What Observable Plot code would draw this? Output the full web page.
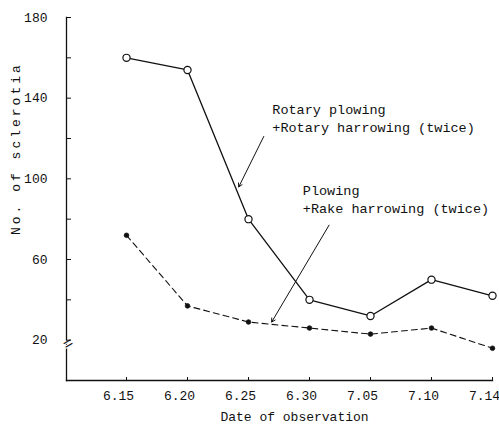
<!DOCTYPE html>
<html>
<head>
<meta charset="utf-8">
<script src="https://cdn.jsdelivr.net/npm/d3@7"></script>
<script src="https://cdn.jsdelivr.net/npm/@observablehq/plot@0.6"></script>
<style>
  html, body { margin: 0; padding: 0; background: #fff; }
  #chart svg { display: block; }
  .ytitle text { letter-spacing: 3px; }
</style>
</head>
<body>
<div id="chart"></div>
<script>
// ---- data ----
const dates = ["6.15", "6.20", "6.25", "6.30", "7.05", "7.10", "7.14"];
const rotarySeries = [160, 154, 80, 40, 32, 50, 42];   // Rotary plowing + Rotary harrowing (twice)
const plowingSeries = [72, 37, 29, 26, 23, 26, 16];    // Plowing + Rake harrowing (twice)
const yTicks = [20, 40, 60, 80, 100, 120, 140, 160, 180];
const yTickLabels = [20, 60, 100, 140, 180];
const yLabel = "No. of sclerotia";
const xLabel = "Date of observation";
const rotaryLabel = ["Rotary plowing", "+Rotary harrowing (twice)"];
const plowingLabel = ["Plowing", "+Rake harrowing (twice)"];
// annotation anchors in data space (x = date index, y = count)
const rotaryText = {x: 2.39, y: 139};
const plowingText = {x: 2.89, y: 98};
const rotaryArrow = [{x1: 2.25, y1: 121, x2: 1.84, y2: 96}];
const plowingArrow = [{x1: 3.32, y1: 77, x2: 2.38, y2: 29}];

const idx = dates.map((d, i) => i);
const rot = idx.map(i => ({x: i, y: rotarySeries[i]}));
const plo = idx.map(i => ({x: i, y: plowingSeries[i]}));

const font = "'Liberation Mono', 'DejaVu Sans Mono', monospace";

const chart = Plot.plot({
  width: 499,
  height: 430,
  marginTop: 17,
  marginBottom: 50,
  marginLeft: 66,
  marginRight: 7,
  style: {fontFamily: font, fontSize: "13px", color: "#111", background: "#fff"},
  x: {type: "linear", domain: [0, 6], insetLeft: 60},
  y: {domain: [0, 180]},
  marks: [
    Plot.frame({anchor: "left", stroke: "#111", strokeWidth: 1.3}),
    Plot.frame({anchor: "bottom", stroke: "#111", strokeWidth: 1.3}),
    // y-axis break
    Plot.text(["="], {frameAnchor: "bottom-left", dy: -30, rotate: -30, fontSize: 16, fill: "#111", stroke: "#fff", strokeWidth: 2, paintOrder: "stroke"}),
    Plot.axisY({ticks: yTicks, tickSize: -5, tickFormat: () => "", label: null, stroke: "#111"}),
    Plot.axisY({ticks: yTickLabels, tickSize: 0, tickPadding: 19, label: null, fontSize: 13}),
    Plot.axisX({ticks: idx, tickSize: -3, tickFormat: () => "", label: null}),
    Plot.axisX({ticks: idx, tickSize: 0, tickPadding: 10, tickFormat: i => dates[i], label: null, fontSize: 13, dx: -8}),
    Plot.text([yLabel], {frameAnchor: "left", rotate: -90, dx: -51, dy: 36, fontSize: 13, fill: "#111", className: "ytitle"}),
    Plot.text([xLabel], {frameAnchor: "bottom", dx: 15, dy: 40, fontSize: 13, fill: "#111"}),
    // series
    Plot.line(plo, {x: "x", y: "y", stroke: "#111", strokeWidth: 1.1, strokeDasharray: "6,4"}),
    Plot.dot(plo, {x: "x", y: "y", r: 2.3, fill: "#111", stroke: "#111", strokeWidth: 0.8}),
    Plot.line(rot, {x: "x", y: "y", stroke: "#111", strokeWidth: 1.3}),
    Plot.dot(rot, {x: "x", y: "y", r: 3.6, fill: "#fff", stroke: "#111", strokeWidth: 1.2}),
    // annotations
    Plot.arrow(rotaryArrow, {x1: "x1", y1: "y1", x2: "x2", y2: "y2", stroke: "#111", strokeWidth: 1, headLength: 6, bend: false}),
    Plot.arrow(plowingArrow, {x1: "x1", y1: "y1", x2: "x2", y2: "y2", stroke: "#111", strokeWidth: 1, headLength: 6, bend: false}),
    Plot.text([rotaryLabel.join("\n")], {x: () => rotaryText.x, y: () => rotaryText.y, textAnchor: "start", lineAnchor: "top", lineHeight: 1.4, fontSize: 13.5, fill: "#111"}),
    Plot.text([plowingLabel.join("\n")], {x: () => plowingText.x, y: () => plowingText.y, textAnchor: "start", lineAnchor: "top", lineHeight: 1.3, fontSize: 13.5, fill: "#111"})
  ]
});
document.getElementById("chart").appendChild(chart);
</script>
</body>
</html>
